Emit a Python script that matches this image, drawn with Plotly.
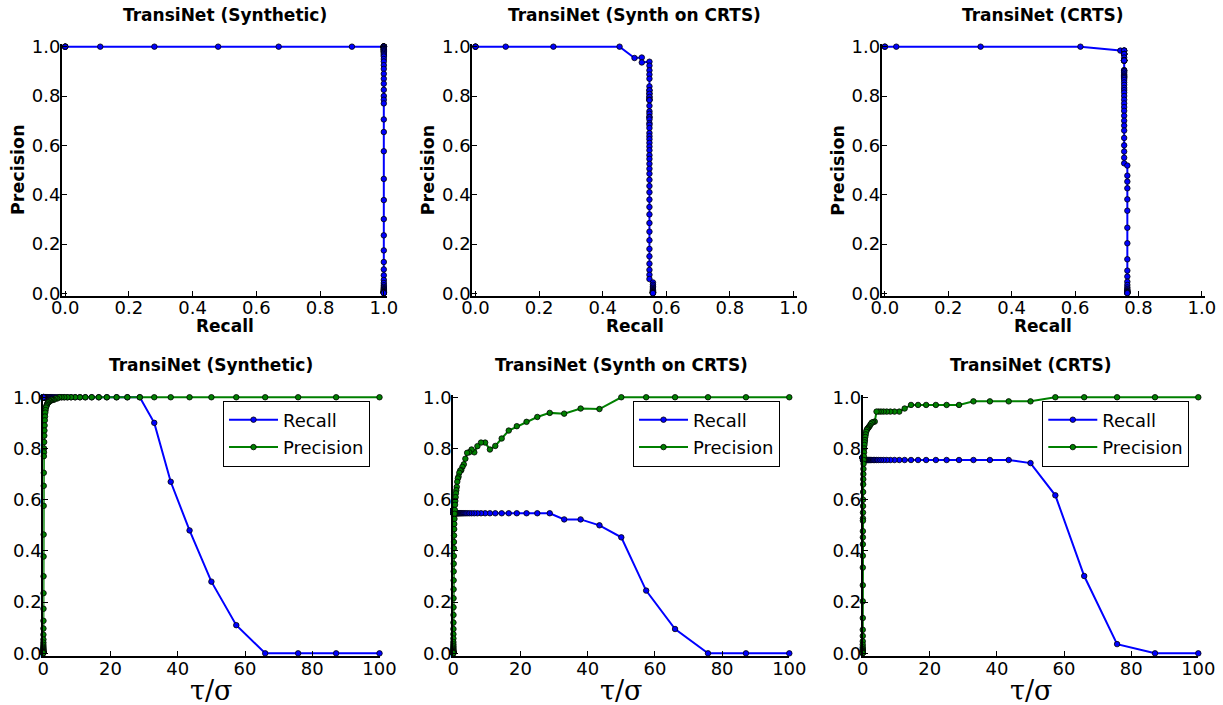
import plotly.graph_objects as go

# ---------------- data ----------------
tau = [100, 87.1, 75.8, 66.0, 57.4, 50.0, 43.5, 37.9, 33.0, 28.7,
       25.0, 21.8, 18.9, 16.5, 14.4, 12.5, 10.9, 9.48, 8.25, 7.18,
       6.25, 5.44, 4.74, 4.12, 3.59, 3.13, 2.72, 2.37, 2.06, 1.79,
       1.56, 1.36, 1.18, 1.03, 0.897, 0.781, 0.680, 0.592, 0.515, 0.449,
       0.391, 0.340, 0.296, 0.258, 0.224, 0.195, 0.170, 0.148, 0.129, 0.112,
       0.0977, 0.0851, 0.0741, 0.0645, 0.0561, 0.0489, 0.0425, 0.0370, 0.0322, 0.0281,
       0.0244, 0.0213, 0.0185, 0.0161, 0.0140, 0.0122, 0.0106, 0.00924, 0.00804, 0.00700,
       0.00609, 0.00530, 0.00462, 0.00402, 0.00350, 0.00305, 0.00265]

syn_recall = [0, 0, 0, 0, 0.11, 0.28, 0.48, 0.67, 0.90, 1.0,
              1.0, 1.0, 1.0, 1.0, 1.0, 1.0, 1.0, 1.0, 1.0, 1.0,
              1.0, 1.0, 1.0, 1.0, 1.0, 1.0, 1.0, 1.0, 1.0, 1.0,
              1.0, 1.0, 1.0, 1.0, 1.0, 1.0, 1.0, 1.0, 1.0, 1.0,
              1.0, 1.0, 1.0, 1.0, 1.0, 1.0, 1.0, 1.0, 1.0, 1.0,
              1.0, 1.0, 1.0, 1.0, 1.0, 1.0, 1.0, 1.0, 1.0, 1.0,
              1.0, 1.0, 1.0, 1.0, 1.0, 1.0, 1.0, 1.0, 1.0, 1.0,
              1.0, 1.0, 1.0, 1.0, 1.0, 1.0, 1.0]
syn_prec = [1, 1, 1, 1, 1, 1, 1, 1, 1, 1,
            1, 1, 1, 1, 1, 1, 1, 1, 1, 1,
            1, 1, 1, 0.995, 0.995, 0.99, 0.99, 0.99, 0.985, 0.985,
            0.98, 0.98, 0.975, 0.97, 0.965, 0.96, 0.95, 0.94, 0.925, 0.91,
            0.89, 0.87, 0.85, 0.825, 0.80, 0.785, 0.77, 0.705, 0.654, 0.576,
            0.464, 0.378, 0.301, 0.235, 0.174, 0.127, 0.097, 0.073, 0.054, 0.042,
            0.033, 0.026, 0.021, 0.017, 0.014, 0.011, 0.009, 0.007, 0.006, 0.005,
            0.004, 0.0035, 0.003, 0.0025, 0.002, 0.0015, 0.001]

mid_recall = [0, 0, 0, 0.095, 0.245, 0.453, 0.50, 0.523, 0.523, 0.547,
              0.547, 0.547, 0.547, 0.547, 0.547, 0.547, 0.547, 0.547, 0.547, 0.547,
              0.547, 0.547, 0.547, 0.547, 0.547, 0.547, 0.547, 0.547, 0.547, 0.547,
              0.547, 0.547, 0.547, 0.547, 0.547, 0.547, 0.547, 0.547, 0.547, 0.547,
              0.547, 0.547, 0.547, 0.547, 0.547, 0.547, 0.547, 0.547, 0.547, 0.547,
              0.547, 0.547, 0.547, 0.547, 0.547, 0.547, 0.547, 0.547, 0.547, 0.558,
              0.558, 0.558, 0.558, 0.558, 0.558, 0.558, 0.558, 0.558, 0.558, 0.558,
              0.558, 0.558, 0.558, 0.558, 0.558, 0.558, 0.558]
mid_prec = [1, 1, 1, 1, 1, 1, 0.954, 0.956, 0.936, 0.939,
            0.923, 0.904, 0.887, 0.870, 0.839, 0.810, 0.796, 0.823, 0.823, 0.809,
            0.785, 0.796, 0.785, 0.783, 0.76, 0.738, 0.728, 0.715, 0.714, 0.705,
            0.69, 0.683, 0.67, 0.65, 0.637, 0.625, 0.61, 0.595, 0.58, 0.56,
            0.545, 0.525, 0.505, 0.485, 0.46, 0.435, 0.41, 0.38, 0.35, 0.32,
            0.285, 0.25, 0.215, 0.18, 0.15, 0.12, 0.095, 0.075, 0.058, 0.044,
            0.035, 0.028, 0.022, 0.017, 0.013, 0.010, 0.008, 0.006, 0.005, 0.004,
            0.003, 0.0025, 0.002, 0.0015, 0.0012, 0.001, 0.0008]

crts_recall = [0, 0, 0.036, 0.302, 0.617, 0.743, 0.755, 0.755, 0.755, 0.755,
               0.755, 0.755, 0.755, 0.755, 0.755, 0.755, 0.755, 0.755, 0.755, 0.755,
               0.755, 0.755, 0.755, 0.755, 0.755, 0.755, 0.755, 0.755, 0.755, 0.755,
               0.755, 0.755, 0.755, 0.755, 0.755, 0.755, 0.755, 0.755, 0.755, 0.755,
               0.755, 0.755, 0.755, 0.755, 0.755, 0.755, 0.755, 0.755, 0.755, 0.755,
               0.755, 0.755, 0.755, 0.765, 0.765, 0.765, 0.765, 0.765, 0.765, 0.765,
               0.765, 0.765, 0.765, 0.765, 0.765, 0.765, 0.765, 0.765, 0.765, 0.765,
               0.765, 0.765, 0.765, 0.765, 0.765, 0.765, 0.765]
crts_prec = [1, 1, 1, 1, 1, 0.984, 0.984, 0.984, 0.984, 0.970,
             0.970, 0.970, 0.970, 0.970, 0.970, 0.956, 0.944, 0.944, 0.944, 0.944,
             0.944, 0.944, 0.944, 0.944, 0.905, 0.903, 0.901, 0.895, 0.888, 0.883,
             0.879, 0.876, 0.872, 0.865, 0.855, 0.845, 0.833, 0.824, 0.814, 0.80,
             0.785, 0.77, 0.755, 0.74, 0.72, 0.70, 0.68, 0.66, 0.63, 0.60,
             0.575, 0.55, 0.527, 0.518, 0.477, 0.453, 0.426, 0.381, 0.335, 0.266,
             0.203, 0.138, 0.092, 0.068, 0.047, 0.034, 0.024, 0.017, 0.012, 0.009,
             0.007, 0.005, 0.004, 0.003, 0.002, 0.0015, 0.001]

titles = ["TransiNet (Synthetic)", "TransiNet (Synth on CRTS)", "TransiNet (CRTS)"]
recalls = [syn_recall, mid_recall, crts_recall]
precisions = [syn_prec, mid_prec, crts_prec]

unit_ticks = [0.0, 0.2, 0.4, 0.6, 0.8, 1.0]
unit_labels = ["0.0", "0.2", "0.4", "0.6", "0.8", "1.0"]
tau_ticks = [0, 20, 40, 60, 80, 100]
tau_labels = ["0", "20", "40", "60", "80", "100"]

# ---------------- layout helpers ----------------
W, H = 1223, 705
FONT = "DejaVu Sans"
BLUE = "#0000ff"
GREEN = "#008000"


def fx(p):
    return p / W


def fy(p):
    return 1 - p / H


top_x = [(62.0, 387.0), (472.3, 796.7), (881.7, 1205.0)]
top_y = (44.2, 295.8)
bot_x = [(43.3, 379.5), (453.3, 789.3), (862.7, 1198.3)]
bot_y = (394.7, 655.9)
legend_right = [370.0, 780.0, 1189.3]
legend_top = 400.5

fig = go.Figure()

axis_common = dict(
    showline=True, linecolor="black", linewidth=2, mirror=False,
    ticks="inside", ticklen=5, tickwidth=1, tickcolor="black",
    showgrid=False, zeroline=False,
    tickfont=dict(family=FONT, size=18, color="black"),
)

layout = dict(
    width=W, height=H, margin=dict(l=0, r=0, t=0, b=0, autoexpand=False),
    plot_bgcolor="white", paper_bgcolor="white",
    font=dict(family=FONT, color="black"),
)

annotations = []
marker_line = dict(color="black", width=0.8)

for i in range(3):
    # ---- top row: precision-recall
    n = i + 1
    xa = "x" if n == 1 else f"x{n}"
    ya = "y" if n == 1 else f"y{n}"
    fig.add_trace(go.Scatter(
        x=recalls[i], y=precisions[i], mode="lines+markers",
        line=dict(color=BLUE, width=2),
        marker=dict(size=5.5, color=BLUE, line=marker_line),
        xaxis=xa, yaxis=ya, showlegend=False, cliponaxis=False,
    ))
    layout[f"xaxis{'' if n == 1 else n}"] = dict(
        axis_common, domain=[fx(top_x[i][0]), fx(top_x[i][1])],
        range=[-0.01, 1.01], tickvals=unit_ticks, ticktext=unit_labels,
        anchor=ya, ticklabelstandoff=-5,
    )
    layout[f"yaxis{'' if n == 1 else n}"] = dict(
        axis_common, domain=[fy(top_y[1]), fy(top_y[0])],
        range=[-0.01, 1.01], tickvals=unit_ticks, ticktext=unit_labels,
        anchor=xa, ticklabelstandoff=-4,
    )
    cx = (top_x[i][0] + top_x[i][1]) / 2
    annotations.append(dict(text=titles[i], x=fx(cx), y=fy(15.5), xref="paper", yref="paper",
                            showarrow=False, xanchor="center", yanchor="middle",
                            font=dict(family=FONT, size=17, color="black", weight="bold")))
    annotations.append(dict(text="Recall", x=fx(cx), y=fy(326), xref="paper", yref="paper",
                            showarrow=False, xanchor="center", yanchor="middle",
                            font=dict(family=FONT, size=17, color="black", weight="bold")))
    annotations.append(dict(text="Precision", x=fx(top_x[i][0] - 44), y=fy((top_y[0] + top_y[1]) / 2),
                            xref="paper", yref="paper", textangle=-90,
                            showarrow=False, xanchor="center", yanchor="middle",
                            font=dict(family=FONT, size=17.5, color="black", weight="bold")))

    # ---- bottom row: recall & precision vs tau/sigma
    m = i + 4
    xb = f"x{m}"
    yb = f"y{m}"
    lg = "legend" if i == 0 else f"legend{i + 1}"
    fig.add_trace(go.Scatter(
        x=tau, y=recalls[i], mode="lines+markers", name="Recall",
        line=dict(color=BLUE, width=2),
        marker=dict(size=5.5, color=BLUE, line=marker_line),
        xaxis=xb, yaxis=yb, legend=lg, legendgroup=f"r{i}", cliponaxis=False,
    ))
    fig.add_trace(go.Scatter(
        x=tau, y=precisions[i], mode="lines+markers", name="Precision",
        line=dict(color=GREEN, width=2),
        marker=dict(size=5.5, color=GREEN, line=marker_line),
        xaxis=xb, yaxis=yb, legend=lg, legendgroup=f"p{i}", cliponaxis=False,
    ))
    layout[f"xaxis{m}"] = dict(
        axis_common, domain=[fx(bot_x[i][0]), fx(bot_x[i][1])],
        range=[0, 100], tickvals=tau_ticks, ticktext=tau_labels, anchor=yb,
        ticklabelstandoff=-5,
    )
    layout[f"yaxis{m}"] = dict(
        axis_common, domain=[fy(bot_y[1]), fy(bot_y[0])],
        range=[-0.01, 1.01], tickvals=unit_ticks, ticktext=unit_labels,
        anchor=xb, ticklabelstandoff=-4,
    )
    bx = (bot_x[i][0] + bot_x[i][1]) / 2
    annotations.append(dict(text=titles[i], x=fx(bx), y=fy(365), xref="paper", yref="paper",
                            showarrow=False, xanchor="center", yanchor="middle",
                            font=dict(family=FONT, size=17, color="black", weight="bold")))
    annotations.append(dict(text="τ/σ", x=fx(bx), y=fy(690), xref="paper", yref="paper",
                            showarrow=False, xanchor="center", yanchor="middle",
                            font=dict(family="DejaVu Serif", size=27, color="black")))
    layout[lg] = dict(
        x=fx(legend_right[i]), y=fy(legend_top), xanchor="right", yanchor="top",
        xref="paper", yref="paper",
        bgcolor="white", bordercolor="black", borderwidth=1,
        font=dict(family=FONT, size=18, color="black"),
        tracegroupgap=1, itemwidth=49,
    )

layout["annotations"] = annotations
fig.update_layout(**layout)
fig.write_html(
    "out.html",
    config={"displayModeBar": False},
    post_script="document.body.style.margin='0';document.body.style.overflow='hidden';",
)
